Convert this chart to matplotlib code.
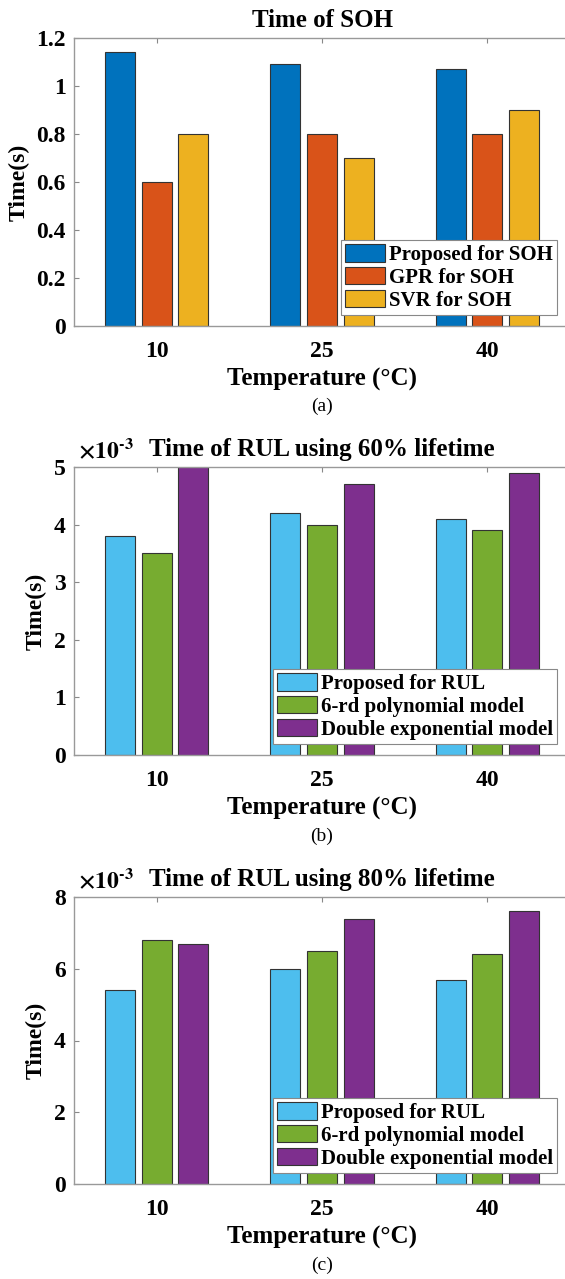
import numpy as np
import matplotlib
matplotlib.use('Agg')
import matplotlib.pyplot as plt
from matplotlib.ticker import FuncFormatter

plt.rcParams['font.family'] = ['Liberation Serif', 'DejaVu Serif']
plt.rcParams['font.weight'] = 'bold'
plt.rcParams['mathtext.fontset'] = 'stix'

temps = ['10', '25', '40']

# (a) SOH time, seconds
soh_names = ['Proposed for SOH', 'GPR for SOH', 'SVR for SOH']
soh_proposed = [1.14, 1.09, 1.07]
soh_gpr = [0.6, 0.8, 0.8]
soh_svr = [0.8, 0.7, 0.9]

# (b) RUL time using 60% lifetime, seconds
rul_names = ['Proposed for RUL', '6-rd polynomial model', 'Double exponential model']
rul60_proposed = [3.8e-3, 4.2e-3, 4.1e-3]
rul60_poly = [3.5e-3, 4.0e-3, 3.9e-3]
rul60_dexp = [5.0e-3, 4.7e-3, 4.9e-3]

# (c) RUL time using 80% lifetime, seconds
rul80_proposed = [5.4e-3, 6.0e-3, 5.7e-3]
rul80_poly = [6.8e-3, 6.5e-3, 6.4e-3]
rul80_dexp = [6.7e-3, 7.4e-3, 7.6e-3]

soh_colors = ['#0072BD', '#D95319', '#EDB120']
rul_colors = ['#4DBEEE', '#77AC30', '#7E2F8E']

W, H = 565, 1279
fig = plt.figure(figsize=(W / 100, H / 100), dpi=100)


def panel(top_px, bottom_px, series, names, colors, ymax, ystep, title, caption, scaled):
    ax = fig.add_axes([74 / W, 1 - bottom_px / H, 496 / W, (bottom_px - top_px) / H])
    x = np.arange(1, len(temps) + 1)
    offsets = [-0.222, 0, 0.222]
    for vals, name, col, off in zip(series, names, colors, offsets):
        ax.bar(x + off, vals, width=0.18, color=col, edgecolor='#333333',
               linewidth=0.8, label=name, zorder=2)
    ax.set_xlim(0.5, 3.5)
    ax.set_ylim(0, ymax)
    ax.set_xticks(x)
    ax.set_xticklabels(temps)
    ax.set_yticks(np.arange(0, ymax + ystep / 2, ystep))
    if scaled:
        ax.yaxis.set_major_formatter(FuncFormatter(lambda v, p: '%g' % round(v * 1e3, 6)))
        ax.text(0.008, 1.012, r'$\times10^{\mathbf{\text{-}3}}$', transform=ax.transAxes,
                fontsize=17, ha='left', va='bottom')
    else:
        ax.yaxis.set_major_formatter(FuncFormatter(lambda v, p: '%g' % round(v, 6)))
    ax.tick_params(direction='in', top=True, right=True, length=3.5,
                   labelsize=17, color='#888888', width=0.8)
    ax.tick_params(axis='x', pad=11)
    ax.tick_params(axis='y', pad=6)
    for s in ax.spines.values():
        s.set_color('#999999')
        s.set_linewidth(1.0)
    ax.set_title(title, fontsize=18, fontweight='bold', pad=8)
    ax.set_xlabel('Temperature (°C)', fontsize=18, fontweight='bold', labelpad=4)
    ax.set_ylabel('Time(s)', fontsize=17, fontweight='bold', labelpad=5)
    leg = ax.legend(loc='lower right', bbox_to_anchor=(0.974, 0.038), fontsize=15,
                    fancybox=False, framealpha=1, edgecolor='#888888',
                    borderaxespad=0, borderpad=0.2, labelspacing=0.1,
                    handlelength=1.9, handleheight=0.9, handletextpad=0.2)
    leg.get_frame().set_linewidth(0.8)
    fig.text(322 / W, 1 - caption[1] / H, caption[0], fontsize=14,
             fontweight='normal', ha='center', va='center')
    return ax


panel(38, 326, [soh_proposed, soh_gpr, soh_svr], soh_names, soh_colors,
      1.2, 0.2, 'Time of SOH', ('(a)', 406), False)
panel(467, 755, [rul60_proposed, rul60_poly, rul60_dexp], rul_names, rul_colors,
      5e-3, 1e-3, 'Time of RUL using 60% lifetime', ('(b)', 836), True)
panel(897, 1184, [rul80_proposed, rul80_poly, rul80_dexp], rul_names, rul_colors,
      8e-3, 2e-3, 'Time of RUL using 80% lifetime', ('(c)', 1265), True)

fig.savefig('out.png', dpi=100)
